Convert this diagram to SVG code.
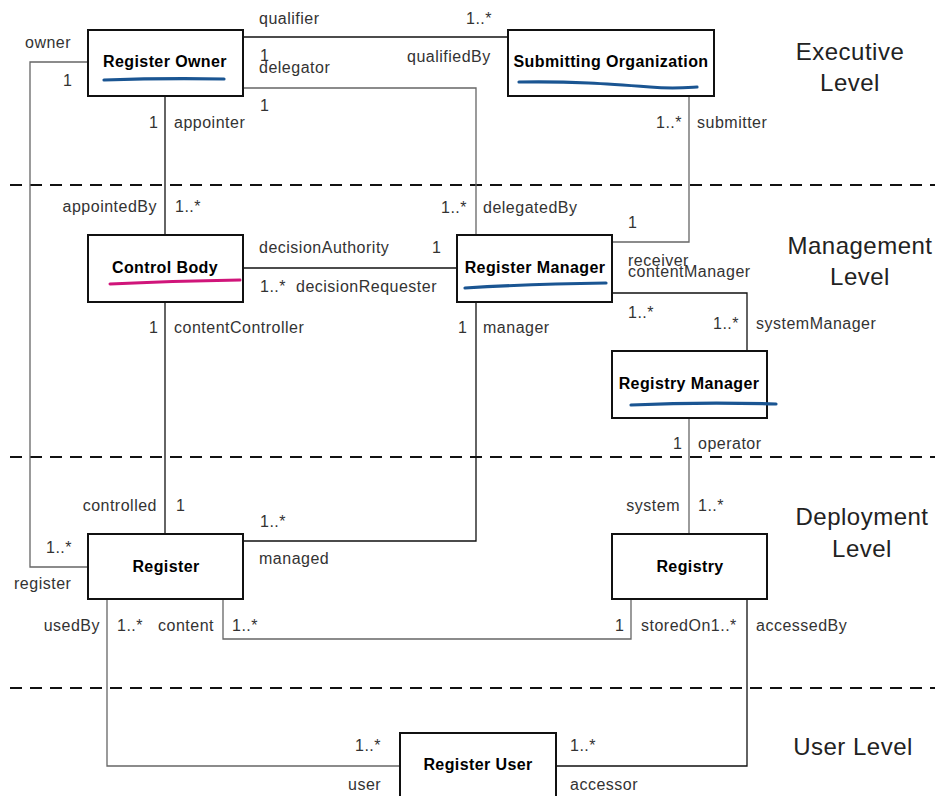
<svg xmlns="http://www.w3.org/2000/svg" width="935" height="796" viewBox="0 0 935 796">
<style>
.bg{fill:#fff}
.sep{stroke:#111;stroke-width:2;stroke-dasharray:12 8;fill:none}
.box{fill:#fff;stroke:#111;stroke-width:2}
.ln{fill:none;stroke:#111;stroke-width:1.3}
.lg{fill:none;stroke:#666;stroke-width:1.3}
.lbl{font-family:"Liberation Sans",Arial,sans-serif;font-size:16px;letter-spacing:0.5px;fill:#333}
.nm{font-family:"Liberation Sans",Arial,sans-serif;font-size:16px;font-weight:bold;letter-spacing:0.4px;fill:#000;text-anchor:middle}
.lvl{font-family:"Liberation Sans",Arial,sans-serif;font-size:24px;letter-spacing:0.5px;fill:#222;text-anchor:middle}
.ul{fill:none;stroke:#1a5592;stroke-width:3.2;stroke-linecap:round}
.ulm{fill:none;stroke:#d0157a;stroke-width:3;stroke-linecap:round}
.e{text-anchor:end}
</style>
<rect class="bg" x="0" y="0" width="935" height="796"/>
<g id="levels">
<line class="sep" x1="10" y1="185" x2="935" y2="185"/>
<line class="sep" x1="10" y1="457" x2="935" y2="457"/>
<line class="sep" x1="10" y1="688" x2="935" y2="688"/>
<text class="lvl" x="850" y="60">Executive</text>
<text class="lvl" x="850" y="91">Level</text>
<text class="lvl" x="860" y="254">Management</text>
<text class="lvl" x="860" y="285">Level</text>
<text class="lvl" x="862" y="525">Deployment</text>
<text class="lvl" x="862" y="557">Level</text>
<text class="lvl" x="853" y="755">User Level</text>
</g>
<g id="connectors">
<polyline class="lg" points="88,62 30,62 30,567 88,567"/>
<line class="ln" x1="243" y1="37" x2="508" y2="37"/>
<polyline class="lg" points="243,88 476,88 476,235"/>
<line class="ln" x1="165" y1="96" x2="165" y2="235"/>
<polyline class="lg" points="689,96 689,242 612,242"/>
<line class="ln" x1="243" y1="268" x2="457" y2="268"/>
<polyline class="ln" points="612,293 747,293 747,351"/>
<line class="ln" x1="165" y1="302" x2="165" y2="534"/>
<polyline class="ln" points="476,302 476,541 243,541"/>
<line class="lg" x1="689" y1="418" x2="689" y2="534"/>
<polyline class="lg" points="223,599 223,639 631,639 631,599"/>
<polyline class="lg" points="107,599 107,766 400,766"/>
<polyline class="ln" points="747,599 747,766 556,766"/>
</g>
<g id="labels">
<text class="lbl" x="25" y="48">owner</text>
<text class="lbl" x="63" y="86">1</text>
<text class="lbl" x="259" y="24">qualifier</text>
<text class="lbl" x="466" y="24">1..*</text>
<text class="lbl" x="260" y="61">1</text>
<text class="lbl" x="259" y="73">delegator</text>
<text class="lbl" x="407" y="62">qualifiedBy</text>
<text class="lbl" x="260" y="111">1</text>
<text class="lbl" x="149" y="128">1</text>
<text class="lbl" x="174" y="128">appointer</text>
<text class="lbl" x="656" y="128">1..*</text>
<text class="lbl" x="697" y="128">submitter</text>
<text class="lbl e" x="157" y="212">appointedBy</text>
<text class="lbl" x="175" y="212">1..*</text>
<text class="lbl e" x="467" y="213">1..*</text>
<text class="lbl" x="483" y="213">delegatedBy</text>
<text class="lbl" x="628" y="228">1</text>
<text class="lbl" x="259" y="253">decisionAuthority</text>
<text class="lbl" x="432" y="253">1</text>
<text class="lbl" x="260" y="292">1..*</text>
<text class="lbl" x="296" y="292">decisionRequester</text>
<text class="lbl" x="628" y="266">receiver</text>
<text class="lbl" x="628" y="277">contentManager</text>
<text class="lbl" x="628" y="318">1..*</text>
<text class="lbl e" x="739" y="329">1..*</text>
<text class="lbl" x="756" y="329">systemManager</text>
<text class="lbl" x="149" y="333">1</text>
<text class="lbl" x="174" y="333">contentController</text>
<text class="lbl" x="458" y="333">1</text>
<text class="lbl" x="483" y="333">manager</text>
<text class="lbl" x="673" y="449">1</text>
<text class="lbl" x="698" y="449">operator</text>
<text class="lbl e" x="157" y="511">controlled</text>
<text class="lbl" x="176" y="511">1</text>
<text class="lbl e" x="680" y="511">system</text>
<text class="lbl" x="698" y="511">1..*</text>
<text class="lbl" x="260" y="527">1..*</text>
<text class="lbl" x="46" y="553">1..*</text>
<text class="lbl" x="259" y="564">managed</text>
<text class="lbl" x="14" y="589">register</text>
<text class="lbl e" x="100" y="631">usedBy</text>
<text class="lbl" x="117" y="631">1..*</text>
<text class="lbl" x="158" y="631">content</text>
<text class="lbl" x="232" y="631">1..*</text>
<text class="lbl" x="615" y="631">1</text>
<text class="lbl" x="641" y="631">storedOn1..*</text>
<text class="lbl" x="756" y="631">accessedBy</text>
<text class="lbl e" x="381" y="751">1..*</text>
<text class="lbl" x="348" y="790">user</text>
<text class="lbl" x="570" y="751">1..*</text>
<text class="lbl" x="570" y="790">accessor</text>
</g>
<g id="register-owner">
<rect class="box" x="88" y="30" width="155" height="66"/>
<text class="nm" x="165" y="67">Register Owner</text>
<path class="ul" d="M104,80 Q164,78 224,79"/>
</g>
<g id="submitting-organization">
<rect class="box" x="508" y="30" width="206" height="66"/>
<text class="nm" x="611" y="67">Submitting Organization</text>
<path class="ul" d="M519,82 C570,81 610,84 650,87 C672,89 682,88 697,87"/>
</g>
<g id="control-body">
<rect class="box" x="88" y="235" width="155" height="67"/>
<text class="nm" x="165" y="273">Control Body</text>
<path class="ulm" d="M110,284 Q170,281 240,280"/>
</g>
<g id="register-manager">
<rect class="box" x="457" y="235" width="155" height="67"/>
<text class="nm" x="535" y="273">Register Manager</text>
<path class="ul" d="M465,288 Q530,284 606,283"/>
</g>
<g id="registry-manager">
<rect class="box" x="612" y="351" width="155" height="67"/>
<text class="nm" x="689" y="389">Registry Manager</text>
<path class="ul" d="M631,405 Q700,402 776,404"/>
</g>
<g id="register">
<rect class="box" x="88" y="534" width="155" height="65"/>
<text class="nm" x="166" y="572">Register</text>
</g>
<g id="registry">
<rect class="box" x="612" y="534" width="155" height="65"/>
<text class="nm" x="690" y="572">Registry</text>
</g>
<g id="register-user">
<rect class="box" x="400" y="733" width="156" height="70"/>
<text class="nm" x="478" y="770">Register User</text>
</g>
</svg>
